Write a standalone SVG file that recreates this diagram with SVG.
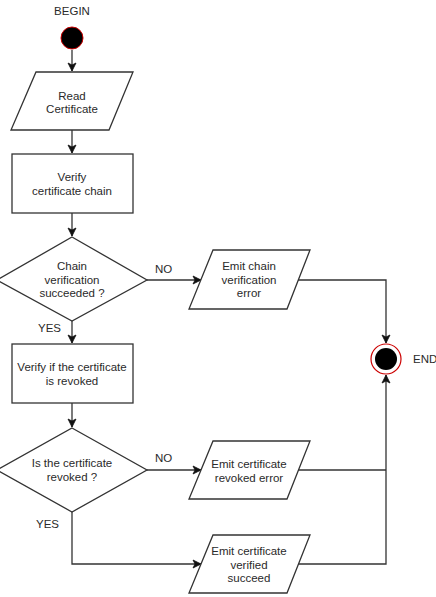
<svg xmlns="http://www.w3.org/2000/svg" width="436" height="597" viewBox="0 0 436 597">
<defs>
<style>
.s{fill:#fff;stroke:#333;stroke-width:1.3}
.t{font-family:"Liberation Sans",Arial,sans-serif;font-size:11.5px;fill:#2a2a2a;text-anchor:middle}
.l{font-family:"Liberation Sans",Arial,sans-serif;font-size:11.5px;fill:#2a2a2a}
.c{fill:none;stroke:#333;stroke-width:1.3}
</style>
<marker id="a" markerWidth="10" markerHeight="10" refX="9" refY="5" orient="auto" markerUnits="userSpaceOnUse">
<path d="M1,1 L9,5 L1,9 L3,5 Z" fill="#111" stroke="#111" stroke-width="0.8"/>
</marker>
</defs>
<rect width="436" height="597" fill="#fff"/>
<g id="connectors">
<path class="c" d="M72,50 V71" marker-end="url(#a)"/>
<path class="c" d="M72,130 V153" marker-end="url(#a)"/>
<path class="c" d="M72,213 V236" marker-end="url(#a)"/>
<path class="c" d="M147,280 H201" marker-end="url(#a)"/>
<path class="c" d="M72,321 V343" marker-end="url(#a)"/>
<path class="c" d="M72,403 V427" marker-end="url(#a)"/>
<path class="c" d="M147,470 H201" marker-end="url(#a)"/>
<path class="c" d="M72,512 V564 H201" marker-end="url(#a)"/>
<path class="c" d="M298,280 H386 V343" marker-end="url(#a)"/>
<path class="c" d="M298,470 H386"/>
<path class="c" d="M298,564 H386 V375" marker-end="url(#a)"/>
<text class="l" x="155" y="273">NO</text>
<text class="l" x="38" y="332">YES</text>
<text class="l" x="155" y="462">NO</text>
<text class="l" x="36" y="528">YES</text>
</g>
<g id="begin">
<text class="t" x="72" y="15">BEGIN</text>
<circle cx="72" cy="38" r="11" fill="#000" stroke="#c00" stroke-width="1"/>
</g>
<g id="read">
<polygon class="s" points="36,72 133,72 109,130 11,130"/>
<text class="t" x="72" y="100">Read</text>
<text class="t" x="72" y="113">Certificate</text>
</g>
<g id="verifyChain">
<rect class="s" x="12" y="154" width="121" height="59"/>
<text class="t" x="72" y="181">Verify</text>
<text class="t" x="72" y="195">certificate chain</text>
</g>
<g id="chainDecision">
<polygon class="s" points="72,237 147,280 72,321 -3,280"/>
<text class="t" x="72" y="270">Chain</text>
<text class="t" x="72" y="284">verification</text>
<text class="t" x="72" y="297">succeeded ?</text>
</g>
<g id="chainError">
<polygon class="s" points="213,250 310,250 287,309 189,309"/>
<text class="t" x="249" y="270">Emit chain</text>
<text class="t" x="249" y="284">verification</text>
<text class="t" x="249" y="297">error</text>
</g>
<g id="verifyRevoked">
<rect class="s" x="12" y="344" width="121" height="59"/>
<text class="t" x="72" y="371">Verify if the certificate</text>
<text class="t" x="72" y="385">is revoked</text>
</g>
<g id="revokedDecision">
<polygon class="s" points="72,428 147,470 72,512 -3,470"/>
<text class="t" x="72" y="467">Is the certificate</text>
<text class="t" x="72" y="481">revoked ?</text>
</g>
<g id="revokedError">
<polygon class="s" points="213,441 310,441 287,499 189,499"/>
<text class="t" x="249" y="468">Emit certificate</text>
<text class="t" x="249" y="482">revoked error</text>
</g>
<g id="verified">
<polygon class="s" points="213,535 310,535 287,593 189,593"/>
<text class="t" x="249" y="555">Emit certificate</text>
<text class="t" x="249" y="569">verified</text>
<text class="t" x="249" y="582">succeed</text>
</g>
<g id="end">
<circle cx="386" cy="359" r="15" fill="#fff" stroke="#c00" stroke-width="1.2"/>
<circle cx="386" cy="359" r="11" fill="#000"/>
<text class="l" x="413" y="363">END</text>
</g>
</svg>
